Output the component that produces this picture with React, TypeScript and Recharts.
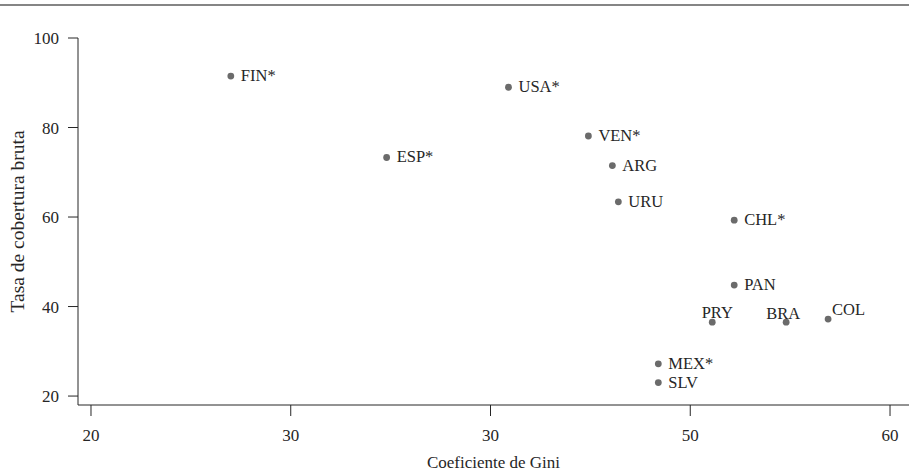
import { ScatterChart, Scatter, XAxis, YAxis, Label } from "recharts";

const countries = ["FIN*", "USA*", "VEN*", "ESP*", "ARG", "URU", "CHL*", "PAN", "PRY", "BRA", "COL", "MEX*", "SLV"];
const gini = [27.0, 40.9, 44.9, 34.8, 46.1, 46.4, 52.2, 52.2, 51.1, 54.8, 56.9, 48.4, 48.4];
const coverage = [91.5, 89.0, 78.1, 73.3, 71.5, 63.4, 59.3, 44.8, 36.5, 36.5, 37.2, 27.2, 23.0];

const xTicks = [20, 30, 40, 50, 60];
const xTickLabels = ["20", "30", "30", "50", "60"];
const yTicks = [20, 40, 60, 80, 100];

const data = countries.map((name, i) => ({ name, gini: gini[i], coverage: coverage[i] }));

const FONT = "'Liberation Serif', 'Times New Roman', serif";
const INK = "#262626";

// labels sit right of the dot, except a few crowded ones
const labelPlacement: Record<string, { dx: number; dy: number; anchor: string }> = {
  PRY: { dx: 5, dy: -4, anchor: "middle" },
  BRA: { dx: -3, dy: -3, anchor: "middle" },
  COL: { dx: 4, dy: -4, anchor: "start" },
};

const Dot = (props: any) => {
  const { cx, cy, payload } = props;
  const p = labelPlacement[payload.name] ?? { dx: 10, dy: 5, anchor: "start" };
  return (
    <g>
      <circle cx={cx} cy={cy} r={3.4} fill="#6b6b6b" />
      <text
        x={cx + p.dx}
        y={cy + p.dy}
        textAnchor={p.anchor as any}
        fontFamily={FONT}
        fontSize={16.5}
        fill={INK}
      >
        {payload.name}
      </text>
    </g>
  );
};

export default function App() {
  return (
    <div style={{ position: "absolute", left: 0, top: 0, width: 909, height: 473, background: "#fff" }}>
      <div style={{ position: "absolute", left: 0, top: 4, width: 909, height: 2, background: "#858585" }} />
      <ScatterChart width={909} height={473} margin={{ top: 38, right: 0, bottom: 0, left: 0 }}>
        <XAxis
          type="number"
          dataKey="gini"
          domain={[19.35, 60.95]}
          allowDataOverflow
          ticks={xTicks}
          tickFormatter={(v: number) => xTickLabels[xTicks.indexOf(v)] ?? String(v)}
          height={68}
          stroke={INK}
          tickSize={11}
          tickMargin={13}
          tick={{ fontFamily: FONT, fontSize: 17, fill: INK }}
        >
          <Label
            value="Coeficiente de Gini"
            position="insideBottom"
            offset={5}
            style={{ fontFamily: FONT, fontSize: 17, fill: INK }}
          />
        </XAxis>
        <YAxis
          type="number"
          dataKey="coverage"
          domain={[18, 100]}
          allowDataOverflow
          ticks={yTicks}
          width={78}
          stroke={INK}
          tickSize={10}
          tickMargin={9}
          tick={{ fontFamily: FONT, fontSize: 17, fill: INK }}
        >
          <Label
            value="Tasa de cobertura bruta"
            angle={-90}
            position="insideLeft"
            offset={17}
            style={{ fontFamily: FONT, fontSize: 19.5, fill: INK, textAnchor: "middle" }}
          />
        </YAxis>
        <Scatter data={data} shape={<Dot />} isAnimationActive={false} />
      </ScatterChart>
    </div>
  );
}
